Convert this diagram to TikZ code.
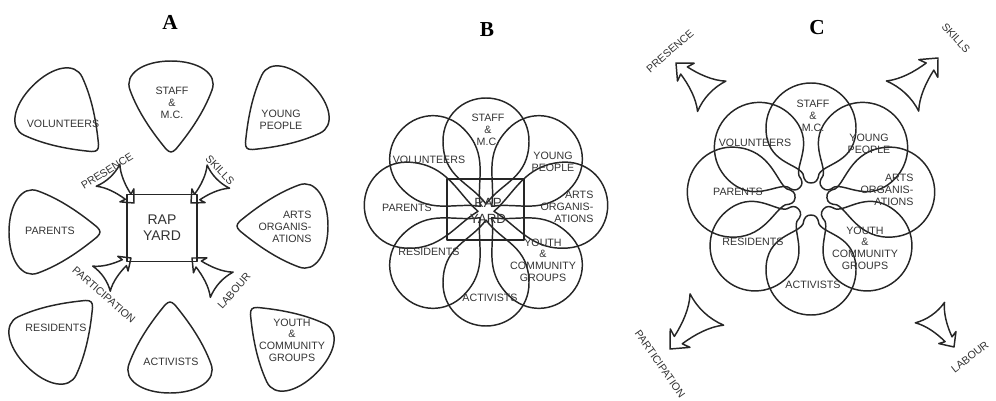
\documentclass[tikz,border=0pt]{standalone}
\usepackage{fontspec}
\setmainfont{Liberation Sans}
\newfontfamily\titlefont{Liberation Serif}
\tikzset{
  ink/.style={line width=1.1pt, line join=round, line cap=round, draw=black!85},
  lbl/.style={font=\fontsize{8}{8.8}\selectfont, align=center, inner sep=0pt, text=black!80},
  ttl/.style={font=\titlefont\bfseries\fontsize{16}{16}\selectfont},
  pick/.pic={\draw[ink] (41,5) .. controls (24,19) and (4,33) .. (-18,41)
      .. controls (-34,47) and (-47,28) .. (-47,0)
      .. controls (-47,-28) and (-34,-47) .. (-18,-41)
      .. controls (4,-33) and (24,-19) .. (41,-5)
      .. controls (45,-1) and (45,1) .. (41,5) -- cycle;},
  petal/.pic={\draw[ink] (\pr,0) .. controls (\pr+22,16) and (\pR-80,\pw) .. (\pR-\pw,\pw)
      .. controls (\pR-\pw+25,\pw) and (\pR,\pw*0.55) .. (\pR,0)
      .. controls (\pR,-\pw*0.55) and (\pR-\pw+25,-\pw) .. (\pR-\pw,-\pw)
      .. controls (\pR-80,-\pw) and (\pr+22,-16) .. (\pr,0) -- cycle;},
  petalc/.pic={\draw[ink] (\pr,0) .. controls (\pr,5) and (\pr+3,7) .. (\pr+9,8)
      .. controls (\pr+20,14) and (\pR-80,\pw) .. (\pR-\pw,\pw)
      .. controls (\pR-\pw+25,\pw) and (\pR,\pw*0.55) .. (\pR,0)
      .. controls (\pR,-\pw*0.55) and (\pR-\pw+25,-\pw) .. (\pR-\pw,-\pw)
      .. controls (\pR-80,-\pw) and (\pr+20,-14) .. (\pr+9,-8)
      .. controls (\pr+3,-7) and (\pr,-5) .. (\pr,0) -- cycle;},
  oarrow/.pic={\draw[ink] (0,0) -- (-11,-10) -- (-9,-4)
      .. controls (-20,-6) and (-32,-10) .. (-40,-17)
      .. controls (-36,-6) and (-36,6) .. (-40,17)
      .. controls (-32,10) and (-20,6) .. (-9,4) -- (-11,10) -- cycle;}
}
\begin{document}
\begin{tikzpicture}[x=0.75pt,y=-0.75pt]
\useasboundingbox (0,0) rectangle (996,400);
% ---------------- Panel A ----------------
\node[ttl] (tA) at (170,22) {A};
\pic[rotate=-90] at (171,108) {pick};
\pic[rotate=-45] at (66,119) {pick};
\pic[rotate=-135] at (278,117) {pick};
\pic[rotate=0] at (56,232) {pick};
\pic[rotate=180] at (281,226) {pick};
\pic[rotate=45] at (60,333) {pick};
\pic[rotate=90] at (170,346) {pick};
\pic[rotate=135] at (283,340) {pick};
\node[lbl] (stA) at (172,103) {STAFF\\\&\\M.C.};
\node[lbl] (voA) at (63,124) {VOLUNTEERS};
\node[lbl] (ypA) at (281,120) {YOUNG\\PEOPLE};
\node[lbl] (paA) at (50,231) {PARENTS};
\node[lbl, align=right] (arA) at (285,227) {ARTS\\ORGANIS-\\ATIONS};
\node[lbl] (reA) at (56,328) {RESIDENTS};
\node[lbl] (acA) at (171,362) {ACTIVISTS};
\node[lbl] (ycA) at (292,340) {YOUTH\\\&\\COMMUNITY\\GROUPS};
\node[ink, draw, lbl, minimum width=52.5pt, minimum height=50pt, font=\fontsize{10.5}{12}\selectfont] (ryA) at (162,228) {RAP\\YARD};
\pic[rotate=-47, scale=0.95] at (134,203) {oarrow};
\pic[rotate=-136, scale=0.95] at (191,203) {oarrow};
\pic[rotate=35, scale=0.9] at (131,258) {oarrow};
\pic[rotate=138, scale=1.0] at (192,258) {oarrow};
\node[lbl, rotate=32] (prA) at (107,171) {PRESENCE};
\node[lbl, rotate=-47] (skA) at (220,170) {SKILLS};
\node[lbl, rotate=-41] (ptA) at (104,295) {PARTICIPATION};
\node[lbl, rotate=49] (laA) at (234,291) {LABOUR};
% ---------------- Panel B ----------------
\node[ttl] (tB) at (487,30) {B};
\def\pr{8}\def\pw{43}
\foreach \a/\rr in {90/114,45/118,5/122,-45/118,-90/114,-135/118,175/122,135/118}{
  \def\pR{\rr}
  \pic[rotate=\a] at (486,212) {petal};
}
\node[ink, draw, minimum width=57.75pt, minimum height=45.75pt, inner sep=0pt] (boxB) at (485.5,209.5) {};
\node[lbl, font=\fontsize{10}{12}\selectfont] (ryB) at (488,211) {RAP\\YARD};
\node[lbl] (stB) at (488,130) {STAFF\\\&\\M.C.};
\node[lbl] (voB) at (429,160) {VOLUNTEERS};
\node[lbl] (ypB) at (553,162) {YOUNG\\PEOPLE};
\node[lbl, align=right] (arB) at (567,207) {ARTS\\ORGANIS-\\ATIONS};
\node[lbl] (paB) at (407,208) {PARENTS};
\node[lbl] (reB) at (429,252) {RESIDENTS};
\node[lbl] (ycB) at (543,260) {YOUTH\\\&\\COMMUNITY\\GROUPS};
\node[lbl] (acB) at (490,298) {ACTIVISTS};
% ---------------- Panel C ----------------
\node[ttl] (tC) at (817,28) {C};
\def\pr{16}\def\pw{45}
\foreach \a/\rr in {90/116,45/118,5/124,-40/118,-90/116,-140/118,175/124,135/118}{
  \def\pR{\rr}
  \pic[rotate=\a] at (811,199) {petalc};
}
\node[lbl] (stC) at (813,116) {STAFF\\\&\\M.C.};
\node[lbl] (voC) at (755,143) {VOLUNTEERS};
\node[lbl] (ypC) at (869,144) {YOUNG\\PEOPLE};
\node[lbl, align=right] (arC) at (887,190) {ARTS\\ORGANIS-\\ATIONS};
\node[lbl] (paC) at (738,192) {PARENTS};
\node[lbl] (reC) at (753,242) {RESIDENTS};
\node[lbl] (ycC) at (865,248) {YOUTH\\\&\\COMMUNITY\\GROUPS};
\node[lbl] (acC) at (813,285) {ACTIVISTS};
\pic[rotate=137, scale=1.22] at (676,63) {oarrow};
\pic[rotate=47, scale=1.3] at (938,58) {oarrow};
\pic[rotate=-133, scale=1.35] at (670,349) {oarrow};
\pic[rotate=-55, scale=1.05] at (954,347) {oarrow};
\node[lbl, rotate=41] (prC) at (670,51) {PRESENCE};
\node[lbl, rotate=-48] (skC) at (956,38) {SKILLS};
\node[lbl, rotate=-55] (ptC) at (660,364) {PARTICIPATION};
\node[lbl, rotate=38] (laC) at (970,357) {LABOUR};
\end{tikzpicture}
\end{document}
